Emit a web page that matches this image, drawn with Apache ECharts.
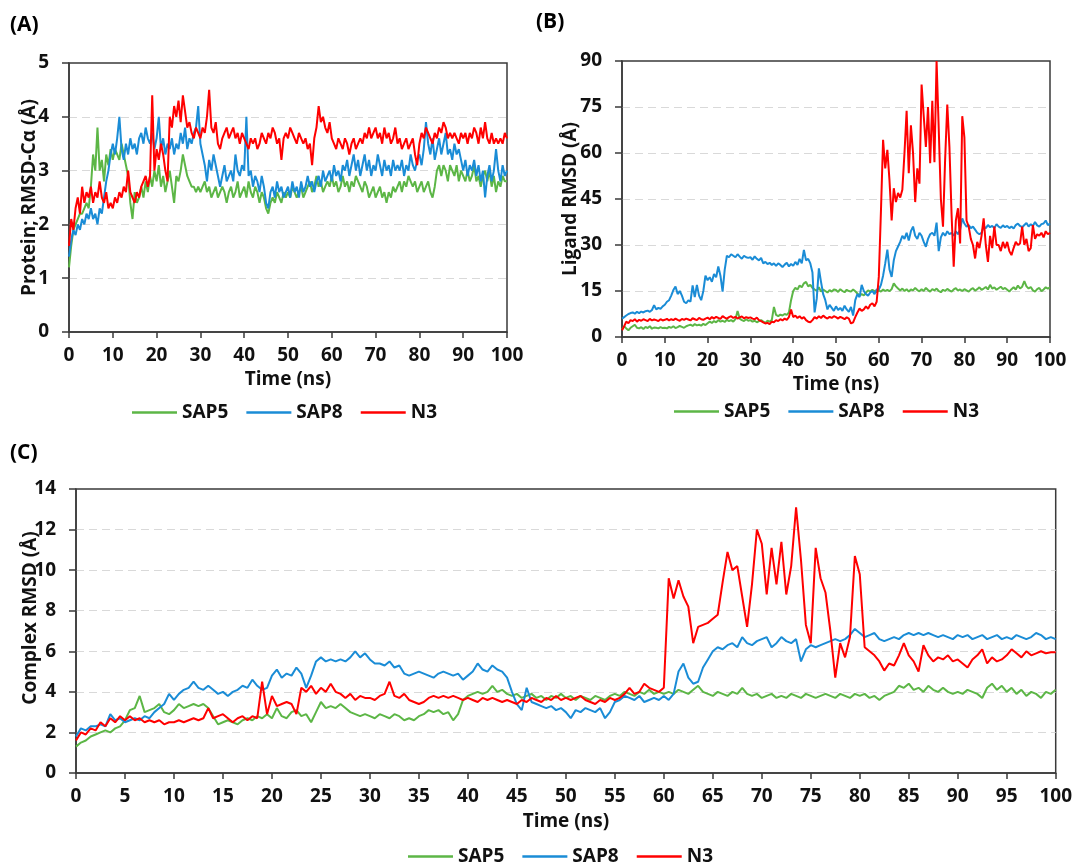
<!DOCTYPE html>
<html>
<head>
<meta charset="utf-8">
<script src="https://cdn.jsdelivr.net/npm/echarts@6/dist/echarts.min.js"></script>
<style>
  html, body { margin: 0; padding: 0; background: #ffffff; }
  #chart { width: 1075px; height: 863px; }
</style>
</head>
<body>
<div id="chart"></div>
<script>
// Trajectory frames are sampled every 0.5 ns from 0 to 100 ns.
const timeStepNs = 0.5;
const seriesNames = ['SAP5', 'SAP8', 'N3'];

// (A) Protein C-alpha RMSD (Å)
const proteinSAP5 = [
  1.2,1.6,1.9,2.0,2.1,2.2,2.2,2.3,2.4,2.3, 2.7,3.3,3.0,3.8,3.0,3.2,2.8,3.3,3.1,3.4,
  3.2,3.4,3.3,3.2,3.5,3.3,3.1,2.9,2.4,2.1, 2.6,2.4,2.5,2.7,2.5,2.8,2.6,2.9,2.7,3.0,
  2.8,3.1,2.7,2.9,2.6,2.8,3.0,2.7,2.4,2.9, 2.8,3.0,3.3,3.1,2.9,2.8,2.7,2.7,2.6,2.7,
  2.6,2.7,2.8,2.6,2.7,2.5,2.6,2.7,2.5,2.6, 2.7,2.6,2.4,2.6,2.7,2.5,2.6,2.8,2.5,2.6,
  2.7,2.5,2.8,2.6,2.5,2.7,2.6,2.4,2.6,2.5, 2.3,2.2,2.4,2.5,2.4,2.6,2.5,2.4,2.6,2.5,
  2.6,2.5,2.7,2.6,2.5,2.6,2.7,2.5,2.6,2.7, 2.8,2.6,2.7,2.9,2.7,2.8,2.6,2.7,2.8,2.7,
  2.9,2.7,2.8,2.6,2.7,2.9,2.7,2.8,2.6,2.8, 2.7,2.9,2.8,2.7,2.6,2.8,2.7,2.5,2.6,2.7,
  2.5,2.6,2.7,2.5,2.6,2.4,2.6,2.5,2.7,2.6, 2.7,2.8,2.6,2.8,2.7,2.9,2.8,2.7,2.8,2.6,
  2.7,2.8,2.6,2.7,2.8,2.6,2.5,2.7,3.0,3.1, 2.9,3.1,3.0,2.8,3.1,3.0,2.9,3.1,2.8,3.0,
  2.9,2.8,3.0,2.8,2.9,3.1,2.8,2.9,2.7,2.9, 3.0,2.8,3.0,2.7,2.9,2.6,2.8,2.7,2.9,2.8,
  2.8
];
const proteinSAP8 = [
  1.4,1.7,1.9,1.8,2.0,1.9,2.1,2.0,2.2,2.1, 2.3,2.1,2.2,2.0,2.3,2.2,2.5,2.8,3.0,3.3,
  3.5,3.3,3.6,4.0,3.4,3.2,3.5,3.3,3.6,3.4, 3.5,3.3,3.6,3.7,3.5,3.8,3.6,3.5,3.7,3.4,
  3.6,4.0,3.4,3.6,3.3,3.5,3.4,3.6,3.3,3.5, 3.4,3.7,3.5,3.8,3.4,3.6,3.5,3.7,3.8,4.2,
  3.5,3.3,3.1,2.8,3.2,3.0,3.3,3.1,2.9,2.7, 2.9,3.1,2.8,2.9,3.0,2.8,3.3,3.0,2.9,3.1,
  3.0,4.0,2.9,3.0,2.7,2.9,2.8,2.6,2.9,2.7, 2.4,2.3,2.6,2.7,2.5,2.8,2.6,2.7,2.5,2.6,
  2.7,2.5,2.8,2.6,2.7,2.5,2.8,2.6,2.7,2.9, 2.7,2.8,2.6,2.8,2.9,2.7,3.0,2.8,2.9,3.0,
  2.8,3.1,2.9,3.0,2.8,3.1,3.0,3.2,2.9,3.1, 3.3,3.0,3.2,2.9,3.1,3.3,3.0,3.2,2.9,3.1,
  3.0,3.3,3.1,2.9,3.2,3.0,3.1,2.9,3.2,3.0, 3.1,3.0,3.2,2.9,3.1,3.0,3.3,3.1,3.0,3.2,
  3.3,3.1,3.4,3.9,3.5,3.3,3.6,3.2,3.4,3.6, 3.3,3.5,3.7,3.3,3.4,3.2,3.5,3.3,3.4,3.2,
  3.0,3.2,2.9,3.1,3.0,3.2,2.9,3.1,2.8,3.0, 2.5,2.9,3.1,2.8,3.0,3.4,3.0,2.8,3.1,2.9,
  3.0
];
const proteinN3 = [
  1.6,2.1,1.9,2.3,2.5,2.2,2.7,2.4,2.6,2.5, 2.7,2.4,2.6,2.5,2.8,2.5,2.4,2.6,2.3,2.4,
  2.3,2.5,2.4,2.6,2.5,2.7,2.6,3.0,2.6,2.5, 2.4,2.6,2.5,2.7,2.8,2.9,2.7,2.9,4.4,3.0,
  3.4,3.2,3.5,3.3,3.0,2.8,4.0,3.8,4.2,4.0, 4.3,3.9,4.4,4.1,3.8,3.9,3.7,3.6,3.8,3.7,
  3.6,3.8,3.7,4.0,4.5,3.8,3.7,3.9,3.5,3.4, 3.6,3.7,3.8,3.6,3.7,3.8,3.6,3.7,3.5,3.7,
  3.6,3.5,3.4,3.6,3.5,3.6,3.4,3.5,3.7,3.6, 3.5,3.7,3.6,3.8,3.7,3.5,3.6,3.2,3.6,3.7,
  3.6,3.8,3.7,3.6,3.5,3.7,3.6,3.5,3.6,3.4, 3.5,3.1,3.6,3.8,4.2,3.9,4.0,3.8,3.7,3.9,
  3.6,3.5,3.4,3.6,3.5,3.4,3.6,3.5,3.3,3.5, 3.6,3.4,3.5,3.6,3.5,3.7,3.6,3.8,3.6,3.7,
  3.8,3.6,3.7,3.5,3.8,3.6,3.7,3.5,3.6,3.8, 3.5,3.6,3.4,3.5,3.6,3.4,3.5,3.6,3.3,3.1,
  3.5,3.7,3.6,3.8,3.7,3.6,3.5,3.7,3.6,3.8, 3.7,3.9,3.8,3.6,3.7,3.6,3.7,3.6,3.5,3.7,
  3.6,3.7,3.5,3.7,3.6,3.8,3.7,3.5,3.8,3.6, 3.9,3.6,3.5,3.7,3.5,3.6,3.5,3.6,3.5,3.7,
  3.6
];

// (B) Ligand RMSD (Å)
const ligandSAP5 = [
  2.5,3.5,2.8,2.2,3.0,3.5,4.0,3.0,2.8,3.2, 2.6,3.3,2.9,3.5,2.7,3.1,3.0,2.8,3.2,2.9,
  3.0,2.8,3.3,3.0,3.5,2.9,3.2,3.6,3.3,3.0, 3.5,3.8,4.0,3.6,4.2,3.8,4.0,3.7,4.3,3.9,
  4.5,5.0,4.6,5.2,4.8,5.5,5.0,5.3,4.9,5.6, 5.2,5.5,5.0,5.8,8.5,6.0,5.5,5.2,5.8,5.3,
  5.5,5.0,5.3,4.8,5.2,5.5,5.0,4.6,5.3,5.0, 5.5,9.8,7.2,6.8,7.3,7.0,7.5,7.2,8.0,12.0,
  15.0,16.0,15.5,16.8,16.2,17.5,18.0,16.5,17.0,16.0, 15.5,15.0,16.2,14.8,15.5,15.0,14.5,15.3,14.8,15.5,
  15.3,14.7,15.6,15.0,14.6,15.4,15.0,14.8,15.5,14.9, 14.2,13.5,14.0,13.6,14.5,15.2,14.8,15.4,15.0,14.6,
  15.2,14.8,15.5,15.0,15.4,14.9,15.6,17.5,16.5,15.8, 15.2,15.8,15.0,15.6,14.8,15.5,15.2,16.0,15.3,14.9,
  15.6,15.0,16.0,15.3,14.8,15.6,15.2,15.8,15.0,14.6, 15.4,15.0,15.7,15.2,14.8,15.5,15.9,15.1,15.5,15.0,
  15.6,15.2,14.8,15.5,15.9,15.1,15.6,16.2,15.4,15.8, 16.3,15.5,17.0,15.8,16.2,15.4,15.9,16.4,15.6,16.0,
  15.4,14.8,15.6,16.2,15.5,16.8,15.8,16.4,18.2,16.5, 15.8,16.3,15.2,14.8,15.6,16.0,14.9,15.5,16.2,15.8,
  16.2
];
const ligandSAP8 = [
  6.0,6.5,7.0,7.5,7.8,8.0,7.6,8.2,7.8,8.3, 8.0,8.4,8.6,8.2,8.8,10.4,9.0,9.5,9.2,10.0,
  10.5,11.5,12.0,13.5,15.3,16.5,14.0,15.0,13.5,11.5, 11.0,12.0,11.5,16.8,13.0,17.0,13.5,12.0,15.0,20.0,
  18.5,19.5,18.0,20.5,19.5,23.0,20.0,14.8,22.0,26.5, 26.0,27.0,26.5,26.0,27.0,26.2,25.5,26.5,26.0,25.8,
  26.0,25.2,26.3,25.5,25.0,25.8,24.0,24.5,23.8,24.2, 23.5,24.0,23.2,24.0,23.5,22.8,23.6,24.2,23.0,23.8,
  23.2,24.5,23.5,25.5,24.0,28.4,25.0,25.5,24.0,21.0, 8.0,12.5,22.4,18.0,14.0,12.0,9.0,10.5,9.5,8.5,
  10.0,8.8,9.5,8.5,10.2,9.0,8.2,9.8,7.0,12.0, 14.0,13.0,17.0,15.0,14.0,13.5,14.5,15.0,14.0,15.5,
  15.5,17.0,20.0,24.0,28.5,22.0,19.6,25.0,28.0,29.5, 31.0,33.0,32.0,34.0,31.5,34.5,36.0,33.0,32.0,34.0,
  33.0,31.0,29.4,32.0,33.5,34.0,33.0,37.3,28.0,32.5, 34.0,33.0,34.5,33.5,34.0,33.0,34.5,33.5,35.0,38.7,
  37.0,36.0,36.5,35.5,36.0,35.0,34.0,33.5,34.0,36.0, 35.5,36.5,35.8,36.2,35.5,36.8,36.0,35.6,36.4,35.8,
  36.2,35.5,36.0,35.4,36.5,37.0,36.2,35.8,36.5,37.2, 36.0,36.8,36.2,37.5,36.4,36.0,36.8,37.0,38.0,36.5,
  37.0
];
const ligandN3 = [
  2.2,3.5,5.0,4.5,5.5,5.2,5.8,5.0,5.6,5.3, 5.8,5.5,5.2,5.9,5.4,5.7,5.5,5.2,5.8,5.4,
  5.6,5.9,5.4,5.8,5.5,6.0,5.6,5.3,5.9,5.6, 6.0,5.7,5.4,6.1,5.8,5.5,6.2,5.8,5.6,6.0,
  6.3,5.8,6.5,6.0,6.6,6.2,5.9,6.8,6.3,6.0, 6.5,6.8,6.2,6.6,6.0,6.4,6.7,6.1,6.5,6.2,
  6.4,6.0,5.8,6.3,5.5,5.2,4.8,4.4,4.6,4.2, 5.0,4.8,5.5,5.2,5.8,5.4,6.0,5.6,6.5,9.0,
  6.5,7.0,6.2,6.8,6.0,6.5,5.5,5.0,4.8,5.5, 6.5,6.0,6.8,6.2,7.0,6.4,6.0,6.6,6.2,6.8,
  6.5,6.0,6.6,6.2,5.8,6.4,6.0,4.4,4.8,6.5, 8.0,9.3,8.5,9.0,10.0,9.2,10.5,11.0,10.0,11.5,
  19.6,41.0,64.3,55.0,61.0,51.0,38.0,48.5,44.0,47.0, 45.5,48.0,60.0,73.8,53.4,69.0,60.0,44.0,55.0,50.0,
  82.3,72.0,62.0,75.0,56.7,77.0,57.0,90.0,68.0,45.0, 36.0,58.0,75.8,62.0,40.0,22.9,38.0,42.0,30.5,72.0,
  65.0,38.0,36.0,32.0,30.0,25.6,31.0,29.0,33.0,38.7, 30.0,24.5,33.0,29.0,36.0,30.0,30.0,28.0,31.0,29.0,
  31.0,28.0,26.7,29.0,31.0,30.0,30.5,36.0,30.0,32.0, 28.0,29.0,36.5,32.0,33.5,33.0,34.0,32.5,34.5,33.5,
  34.0
];

// (C) Complex RMSD (Å)
const complexSAP5 = [
  1.3,1.5,1.6,1.8,1.9,2.0,2.1,2.0,2.2,2.3, 2.6,3.1,3.2,3.8,3.0,3.1,3.2,3.4,3.0,2.9,
  3.1,3.4,3.2,3.3,3.4,3.3,3.4,3.2,2.8,2.4, 2.5,2.6,2.5,2.4,2.6,2.7,2.6,2.8,2.7,2.9,
  2.7,3.2,2.8,2.7,3.0,3.1,2.8,2.9,2.5,3.0, 3.5,3.2,3.3,3.2,3.4,3.2,3.0,2.9,2.8,2.9,
  2.8,2.7,2.9,2.8,2.7,2.9,2.8,2.6,2.7,2.6, 2.8,2.9,3.1,3.0,3.1,2.9,3.0,2.6,2.9,3.6,
  3.8,3.9,4.0,3.9,4.0,4.3,4.0,4.1,3.9,3.8, 3.9,3.7,3.8,3.9,3.7,3.8,3.6,3.8,3.7,3.9,
  3.7,3.8,3.6,3.8,3.7,3.6,3.8,3.7,3.6,3.8, 3.9,3.8,4.0,3.9,3.8,4.0,3.9,4.1,3.9,4.0,
  3.9,4.0,3.9,4.1,4.0,3.9,4.1,4.3,4.0,3.9, 3.8,4.0,3.9,3.8,4.0,3.9,4.2,3.9,3.8,3.9,
  3.7,3.8,3.9,3.7,3.8,3.7,3.9,3.8,3.7,3.9, 3.8,3.7,3.8,3.9,3.8,3.7,3.9,3.8,3.7,3.9,
  3.8,3.9,3.7,3.8,3.6,3.8,3.9,4.0,4.3,4.2, 4.4,4.1,4.2,4.0,4.3,4.1,4.0,4.2,4.0,3.9,
  4.0,3.9,4.1,4.0,3.9,3.7,4.2,4.4,4.1,4.3, 4.0,4.2,3.9,4.1,3.8,4.0,3.9,3.7,4.0,3.9,
  4.1
];
const complexSAP8 = [
  1.8,2.2,2.1,2.3,2.3,2.4,2.3,2.9,2.6,2.7, 2.5,2.6,2.7,2.6,2.8,2.7,3.0,3.2,3.4,3.9,
  3.6,3.9,4.1,4.2,4.5,4.2,4.1,4.3,4.1,3.9, 4.0,3.8,4.0,4.1,4.3,4.2,4.6,4.3,4.1,4.2,
  4.8,5.1,4.7,4.9,4.8,5.2,4.9,4.2,4.8,5.5, 5.7,5.5,5.6,5.5,5.6,5.5,5.7,6.0,5.7,5.9,
  5.6,5.4,5.4,5.3,5.5,5.2,5.3,4.9,4.8,4.9, 5.0,4.9,4.8,4.7,4.9,5.0,4.9,4.8,4.9,4.6,
  4.8,5.0,5.4,5.1,5.0,5.3,5.1,5.0,4.7,4.0, 3.4,3.1,4.2,3.5,3.4,3.3,3.2,3.3,3.1,3.2,
  3.0,2.7,3.1,3.0,3.2,3.1,3.0,3.2,2.7,3.0, 3.5,3.6,3.8,3.7,3.6,3.8,3.5,3.6,3.7,3.6,
  3.8,3.6,3.9,5.0,5.4,4.7,4.4,4.5,5.2,5.6, 6.0,6.2,6.1,6.3,6.4,6.2,6.7,6.4,6.3,6.5,
  6.6,6.7,6.2,6.4,6.7,6.5,6.4,6.6,5.5,6.1, 6.3,6.2,6.3,6.4,6.5,6.6,6.5,6.6,6.8,7.1,
  6.9,6.7,6.8,6.9,6.6,6.5,6.6,6.7,6.6,6.8, 6.9,6.8,6.9,6.8,6.9,6.8,6.7,6.8,6.7,6.6,
  6.8,6.7,6.8,6.6,6.7,6.8,6.6,6.7,6.8,6.6, 6.7,6.6,6.8,6.7,6.6,6.7,6.9,6.8,6.6,6.7,
  6.6
];
const complexN3 = [
  1.6,2.0,1.9,2.2,2.1,2.5,2.3,2.7,2.5,2.8, 2.6,2.8,2.6,2.7,2.5,2.6,2.5,2.6,2.4,2.5,
  2.5,2.6,2.5,2.6,2.7,2.6,2.7,3.2,2.7,2.8, 2.9,2.7,2.5,2.7,2.8,2.6,2.8,2.7,4.5,2.9,
  3.8,3.3,3.4,3.5,3.4,2.9,4.2,4.0,4.3,3.9, 4.2,4.0,4.4,4.0,3.9,3.7,3.9,3.6,3.8,3.7,
  3.7,3.6,3.8,3.9,4.5,3.8,3.7,3.9,3.6,3.5, 3.4,3.5,3.7,3.8,3.7,3.8,3.7,3.8,3.7,3.6,
  3.7,3.6,3.5,3.7,3.6,3.7,3.6,3.5,3.6,3.5, 3.4,3.6,3.5,3.7,3.6,3.5,3.7,3.6,3.8,3.6,
  3.7,3.6,3.7,3.8,3.6,3.5,3.4,3.6,3.5,3.7, 3.6,3.7,3.9,4.2,3.9,4.0,4.4,4.2,4.1,4.0,
  4.2,9.6,8.6,9.5,8.7,8.2,6.4,7.2,7.3,7.4, 7.6,7.8,9.4,10.9,10.0,10.2,8.7,7.2,9.3,12.0,
  11.3,8.8,11.1,9.3,11.4,8.8,10.2,13.1,10.5,7.3, 6.4,11.1,9.6,8.9,7.0,4.7,6.4,5.7,6.7,10.7,
  9.8,6.2,6.0,5.8,5.5,5.05,5.4,5.3,5.8,6.4, 5.8,5.5,5.0,6.3,5.8,5.5,5.7,5.6,5.8,5.5,
  5.6,5.4,5.2,5.6,5.8,6.1,5.4,5.7,5.5,5.6, 5.8,6.1,5.9,5.7,6.0,5.8,5.9,6.0,5.9,5.95,
  5.95
];

const lineColors = ['#5cb646', '#1a8cd6', '#ff0000'];
const fontFamily = '"Open Sans", "Liberation Sans", sans-serif';
const axisColor = '#3a3a3a';
const textColor = '#111111';
const labelSize = 19;

function toPoints(values) {
  return values.map((v, i) => [i * timeStepNs, v]);
}

const chart = echarts.init(document.getElementById('chart'), null, { renderer: 'canvas' });

const grids = [
  { left: 69, top: 63, width: 438, height: 269 },
  { left: 622, top: 61, width: 428, height: 276 },
  { left: 76, top: 489, width: 980, height: 284 }
].map(g => Object.assign({ show: true, borderColor: axisColor, borderWidth: 1.5, backgroundColor: 'transparent', z: 0 }, g));

const textStyleBold = { fontFamily, fontSize: labelSize, fontWeight: 'bold', color: textColor };

function xAxisFor(gridIndex, interval, nameGap) {
  return {
    type: 'value', gridIndex, min: 0, max: 100, interval,
    name: 'Time (ns)', nameLocation: 'middle', nameGap,
    nameTextStyle: textStyleBold,
    axisLine: { show: true, lineStyle: { color: axisColor, width: 1.5 } },
    axisTick: { show: true, inside: false, length: 6, lineStyle: { color: axisColor, width: 1.5 } },
    axisLabel: Object.assign({ margin: 14 }, textStyleBold),
    splitLine: { show: false }
  };
}

function yAxisFor(gridIndex, max, interval, name, nameGap, namePadding) {
  return {
    type: 'value', gridIndex, min: 0, max, interval,
    name, nameLocation: 'middle', nameGap, nameMoveOverlap: false,
    nameTextStyle: Object.assign({ padding: namePadding }, textStyleBold),
    axisLine: { show: true, lineStyle: { color: axisColor, width: 1.5 } },
    axisTick: { show: true, inside: false, length: 7, lineStyle: { color: axisColor, width: 1.5 } },
    axisLabel: Object.assign({ margin: 20 }, textStyleBold),
    splitLine: { show: true, showMinLine: false, showMaxLine: false, lineStyle: { color: '#d9d9d9', width: 1.2, type: [8, 5] } }
  };
}

const panels = [
  [proteinSAP5, proteinSAP8, proteinN3],
  [ligandSAP5, ligandSAP8, ligandN3],
  [complexSAP5, complexSAP8, complexN3]
];

const series = [];
panels.forEach((sets, p) => {
  sets.forEach((values, k) => {
    series.push({
      type: 'line', name: seriesNames[k],
      xAxisIndex: p, yAxisIndex: p,
      data: toPoints(values),
      showSymbol: false, symbol: 'none',
      lineStyle: { color: lineColors[k], width: 2 },
      itemStyle: { color: lineColors[k] },
      z: 2 + k
    });
  });
});

function legendAt(left, top) {
  return {
    left, top, orient: 'horizontal',
    data: seriesNames,
    icon: 'rect', itemWidth: 45, itemHeight: 2.5, itemGap: 18,
    textStyle: textStyleBold
  };
}

function panelTitle(text, left, top) {
  return { text, left, top, padding: 0, textStyle: { fontFamily, fontSize: 21, fontWeight: 'bold', color: '#000' } };
}

chart.setOption({
  animation: false,
  backgroundColor: '#ffffff',
  title: [panelTitle('(A)', 10, 15), panelTitle('(B)', 536, 12), panelTitle('(C)', 10, 443)],
  grid: grids,
  xAxis: [xAxisFor(0, 10, 38), xAxisFor(1, 10, 38), xAxisFor(2, 5, 39)],
  yAxis: [
    yAxisFor(0, 5, 1, 'Protein; RMSD-Cα (Å)', 30, 0),
    yAxisFor(1, 90, 15, 'Ligand RMSD (Å)', 42, 0),
    yAxisFor(2, 14, 2, 'Complex RMSD (Å)', 36, [0, 0, 0, 26])
  ],
  legend: [legendAt(127, 398), legendAt(669, 397), legendAt(403, 842)],
  series
});
</script>
</body>
</html>
